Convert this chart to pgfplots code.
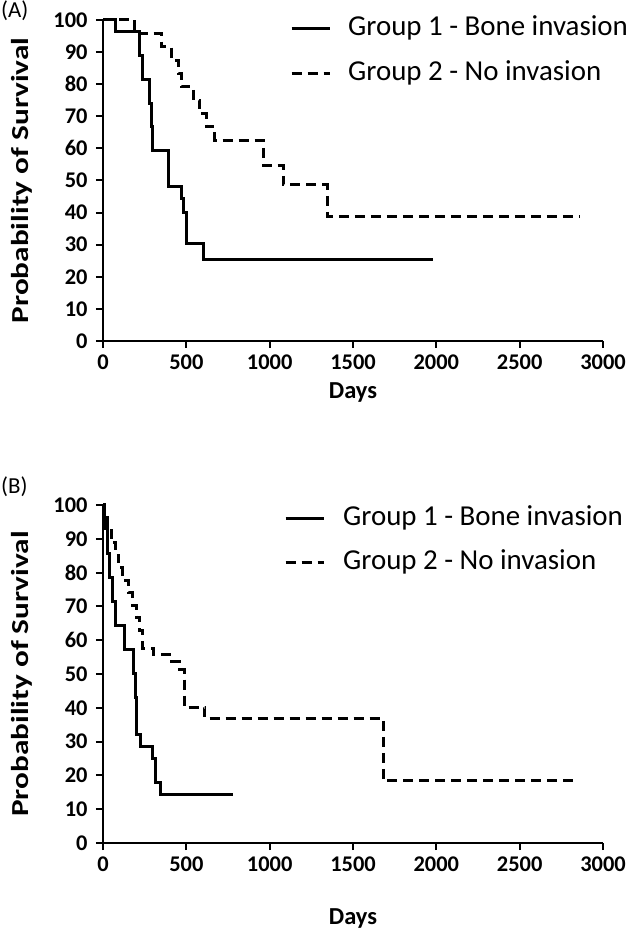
\documentclass[border=0pt]{standalone}
\usepackage{pgfplots}
\pgfplotsset{compat=1.18}
\usepackage{fontspec}
\setmainfont{Carlito}
\begin{document}
\begin{tikzpicture}
\useasboundingbox (0bp,0bp) rectangle (639bp,934bp);
\pgfplotsset{
 km/.style={
  scale only axis, width=500bp, xmin=0, xmax=3000, ymin=0, ymax=100,
  enlargelimits=false, clip=false,
  axis lines=left, axis line style={-, line width=2bp},
  xtick={0,500,...,3000}, ytick={0,10,...,100},
  tick align=outside, major tick length=7bp, tick style={line width=2bp, black},
  /pgf/number format/assume math mode=true,
  /pgf/number format/1000 sep={},
  ticklabel style={font=\bfseries\fontsize{22.5}{26}\selectfont},
  yticklabel style={xshift=-5bp},
  xticklabel style={yshift=-3bp},
  xlabel={Days}, ylabel={\scalebox{1.28}[1.0]{Probability of Survival}},
  label style={font=\bfseries\fontsize{24.5}{28}\selectfont},
  legend cell align=left,
  legend image code/.code={\draw[##1] (0bp,0bp) -- (38bp,0bp);},
 },
 g1/.style={black, line width=3bp},
 g2/.style={black, line width=3bp, dash pattern=on 10bp off 6bp},
}
\node[font=\fontsize{23}{27}\selectfont, anchor=west, inner sep=0pt] at (1bp,923bp) {(A)};
\node[font=\fontsize{23}{27}\selectfont, anchor=west, inner sep=0pt] at (1bp,447bp) {(B)};

\begin{axis}[km, at={(103bp,593bp)}, anchor=south west, height=321bp,
  xlabel style={at={(axis description cs:0.5,-0.159)}, anchor=center},
  ylabel style={at={(axis description cs:-0.162,0.5)}, anchor=center},
  legend style={draw=none, fill=none, inner sep=0pt, at={(axis description cs:0.374,1.015)}, anchor=north west,
    font=\fontsize{29}{33}\selectfont, row sep=19bp, column sep=17bp,
    nodes={inner sep=0pt, text height=20bp, text depth=6bp}},
]
\addplot[g1] coordinates {(0,100)(75,100)(75,96.3)(220,96.3)(220,88.9)(235,88.9)(235,81.5)(280,81.5)(280,74.1)(290,74.1)(290,66.7)(298,66.7)(298,59.3)(390,59.3)(390,51.9)(395,51.9)(395,48.2)(470,48.2)(470,44.4)(480,44.4)(480,40.0)(500,40.0)(500,30.4)(600,30.4)(600,25.4)(1980,25.4)};
\addlegendentry{Group 1 - Bone invasion}
\addplot[g2] coordinates {(0,100)(190,100)(190,95.8)(350,95.8)(350,91.7)(410,91.7)(410,87.5)(450,87.5)(450,83.3)(470,83.3)(470,79.2)(540,79.2)(540,75.0)(580,75.0)(580,70.8)(620,70.8)(620,66.7)(670,66.7)(670,62.5)(960,62.5)(960,54.7)(1080,54.7)(1080,48.6)(1345,48.6)(1345,38.9)(2860,38.9)};
\addlegendentry{Group 2 - No invasion}
\end{axis}

\begin{axis}[km, at={(103bp,91bp)}, anchor=south west, height=338bp,
  xlabel style={at={(axis description cs:0.5,-0.222)}, anchor=center},
  ylabel style={at={(axis description cs:-0.162,0.5)}, anchor=center},
  legend style={draw=none, fill=none, inner sep=0pt, at={(axis description cs:0.362,1.0)}, anchor=north west,
    font=\fontsize{29}{33}\selectfont, row sep=18bp, column sep=18bp,
    nodes={inner sep=0pt, text height=20bp, text depth=6bp}},
]
\addplot[g1] coordinates {(0,100)(10,100)(10,92.9)(25,92.9)(25,85.7)(40,85.7)(40,78.6)(55,78.6)(55,71.4)(75,71.4)(75,64.3)(130,64.3)(130,57.1)(185,57.1)(185,50.0)(192,50.0)(192,42.9)(198,42.9)(198,32.1)(225,32.1)(225,28.6)(295,28.6)(295,25.0)(315,25.0)(315,17.9)(345,17.9)(345,14.3)(780,14.3)};
\addlegendentry{Group 1 - Bone invasion}
\addplot[g2] coordinates {(0,100)(10,100)(10,96.3)(25,96.3)(25,92.6)(50,92.6)(50,88.9)(75,88.9)(75,85.2)(95,85.2)(95,81.5)(115,81.5)(115,77.8)(150,77.8)(150,74.1)(175,74.1)(175,70.4)(200,70.4)(200,66.7)(220,66.7)(220,63.0)(238,63.0)(238,57.4)(300,57.4)(300,55.7)(400,55.7)(400,53.6)(460,53.6)(460,51.4)(488,51.4)(488,40.1)(610,40.1)(610,36.9)(1680,36.9)(1680,18.4)(2840,18.4)};
\addlegendentry{Group 2 - No invasion}
\end{axis}
\end{tikzpicture}
\end{document}
